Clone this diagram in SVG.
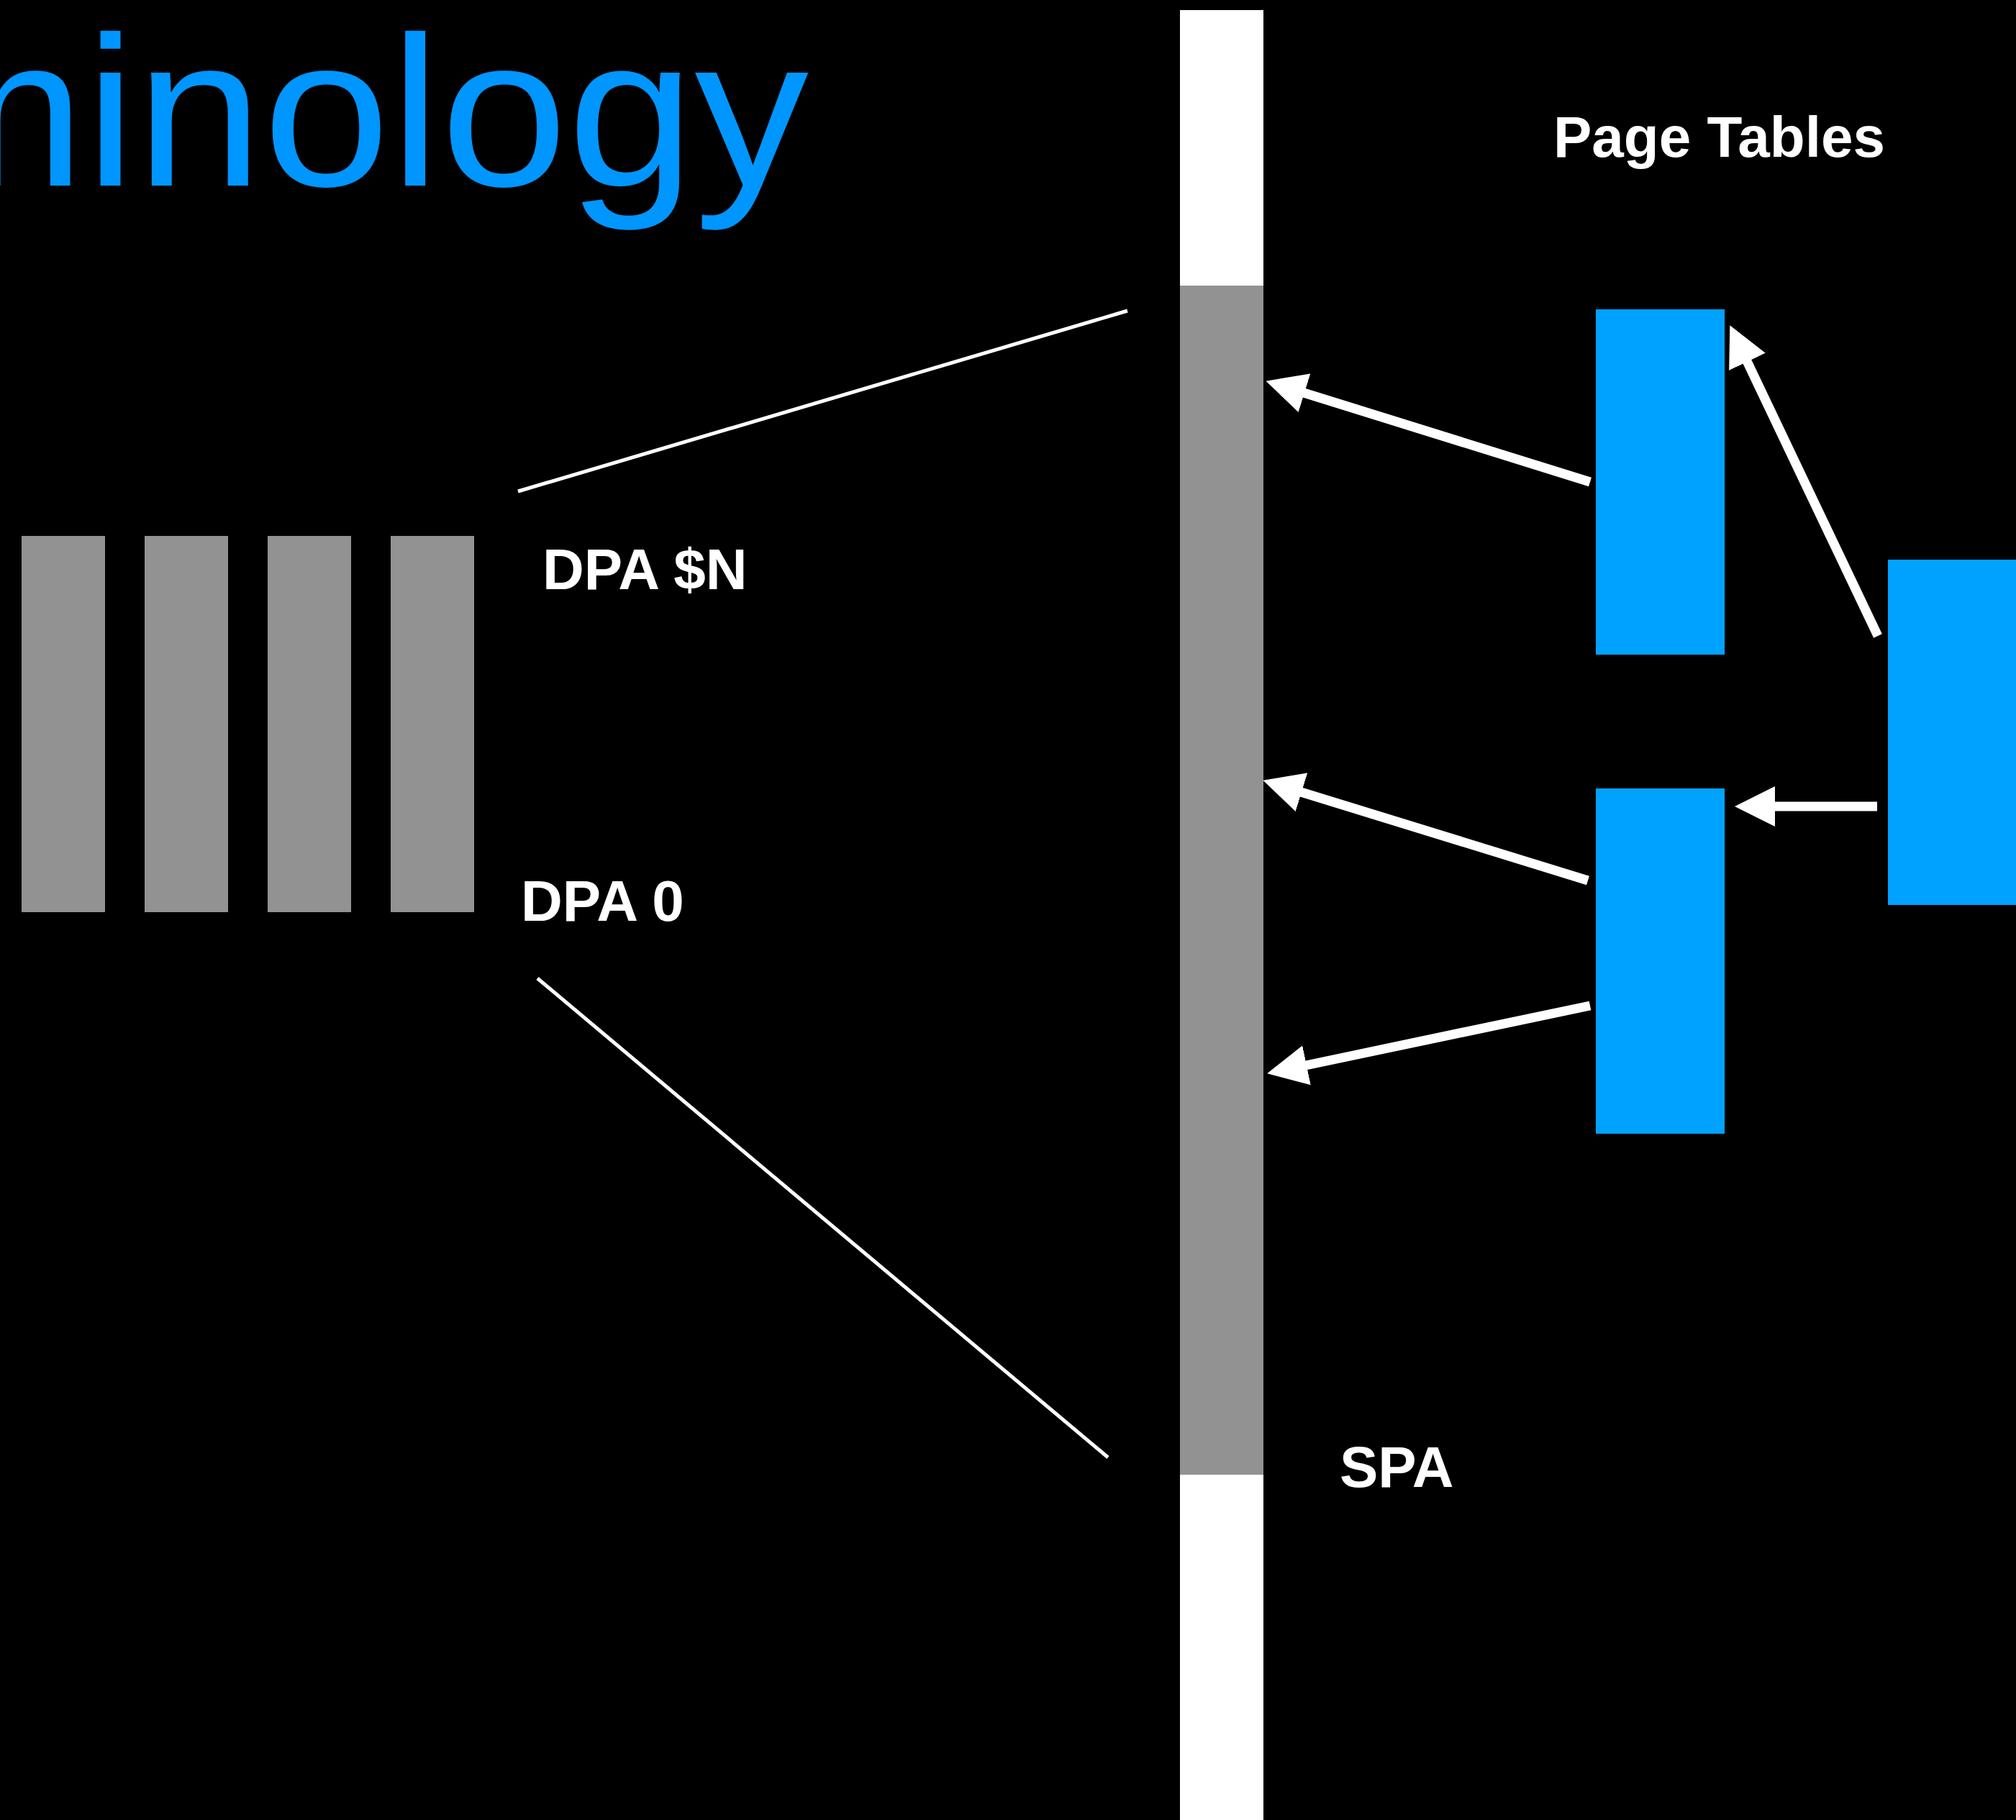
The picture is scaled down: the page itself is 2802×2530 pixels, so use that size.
<svg xmlns="http://www.w3.org/2000/svg" width="2802" height="2530" viewBox="0 0 2802 2530">
<style>
.lbl{font-family:"Liberation Sans",Arial,sans-serif;font-weight:bold;fill:#ffffff;font-size:80px}
.blue{fill:#00a2ff}
.gray{fill:#929292}
.thin{stroke:#ffffff;stroke-width:5;fill:none}
.arr{stroke:#ffffff;stroke-width:13;fill:none;marker-end:url(#head)}
</style>
<defs>
<marker id="head" markerUnits="userSpaceOnUse" markerWidth="56" markerHeight="56" viewBox="0 0 56 56" refX="1" refY="28" orient="auto">
<path d="M0,0 L56,28 L0,56 Z" fill="#ffffff"/>
</marker>
</defs>
<rect x="0" y="0" width="2802" height="2530" fill="#000000"/>
<g id="title">
<text x="-146" y="258" font-family="Liberation Sans, Arial, sans-serif" font-size="297" fill="#0096ff" textLength="1270" lengthAdjust="spacingAndGlyphs">minology</text>
</g>
<g id="spa-bar">
<rect x="1640" y="14" width="116" height="2516" fill="#ffffff"/>
<rect x="1640" y="397" width="116" height="1653" class="gray"/>
</g>
<g id="dpa-blocks">
<rect x="30" y="745" width="116" height="523" class="gray"/>
<rect x="201" y="745" width="116" height="523" class="gray"/>
<rect x="372" y="745" width="116" height="523" class="gray"/>
<rect x="543" y="745" width="116" height="523" class="gray"/>
</g>
<g id="pt1"><rect x="2218" y="430" width="179" height="480" class="blue"/></g>
<g id="pt2"><rect x="2218" y="1096" width="179" height="480" class="blue"/></g>
<g id="pt-root"><rect x="2624" y="778" width="190" height="480" class="blue"/></g>
<g id="labels">
<text x="2159" y="218" class="lbl">Page Tables</text>
<text x="754" y="819" class="lbl">DPA $N</text>
<text x="724" y="1280" class="lbl">DPA 0</text>
<text x="1862" y="2067" class="lbl">SPA</text>
</g>
<g id="connectors">
<line x1="720" y1="683" x2="1567" y2="432" class="thin"/>
<line x1="747" y1="1360" x2="1540" y2="2026" class="thin"/>
<line x1="2610" y1="884" x2="2428" y2="502" class="arr"/>
<line x1="2609" y1="1121" x2="2466" y2="1121" class="arr"/>
<line x1="2210" y1="670" x2="1812" y2="546" class="arr"/>
<line x1="2207" y1="1224" x2="1808" y2="1101" class="arr"/>
<line x1="2210" y1="1398" x2="1815" y2="1481" class="arr"/>
</g>
</svg>
